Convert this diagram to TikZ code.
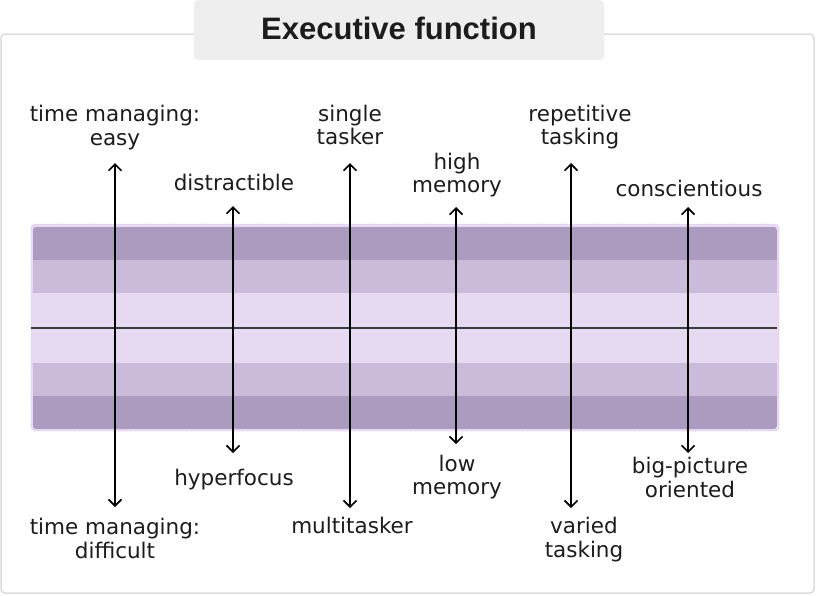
\documentclass[tikz,border=0pt]{standalone}
\usepackage{fontspec}
\setmainfont{DejaVu Sans}
\newfontfamily\titlefont{Liberation Sans}
\usetikzlibrary{arrows.meta}
\definecolor{frameC}{HTML}{DCDCDC}
\definecolor{titleC}{HTML}{EEEEEE}
\definecolor{txtC}{HTML}{1C1C1C}
\definecolor{darkS}{HTML}{AB9BBF}
\definecolor{midS}{HTML}{CBBBDB}
\definecolor{lightS}{HTML}{E6DAF3}
\definecolor{bandB}{HTML}{D4C2EA}
\definecolor{axisC}{HTML}{3C3C3C}
\tikzset{
  lbl/.style={anchor=base, align=center, inner sep=0pt, text=txtC,
    font=\fontsize{21.5}{23.5}\selectfont},
  axisarrow/.style={line width=1.6pt, black,
    {Straight Barb[length=6.5pt,width=13pt]}-{Straight Barb[length=6.5pt,width=13pt]}},
}
\begin{document}
\begin{tikzpicture}[x=1pt,y=-1pt]
\useasboundingbox (0,0) rectangle (816,595);
% outer frame
\draw[frameC, line width=1.5pt, rounded corners=4pt] (1,34) rectangle (814,593);
% title box
\fill[titleC, rounded corners=4pt] (194,0) rectangle (604,60);
\node[anchor=base, inner sep=0pt, text=txtC, font=\titlefont\bfseries\fontsize{31}{34}\selectfont] (title) at (399,39) {Executive function};
% band
\fill[lightS, rounded corners=4pt] (31,224) rectangle (779,431);
\begin{scope}
\clip[rounded corners=3pt] (33,227) rectangle (777,429);
\fill[darkS] (33,227) rectangle (777,260);
\fill[midS] (33,260) rectangle (777,293);
\fill[lightS] (33,293) rectangle (777,363);
\fill[midS] (33,363) rectangle (777,396);
\fill[darkS] (33,396) rectangle (777,429);
\end{scope}
\draw[bandB, line width=0.8pt, dotted, rounded corners=4pt] (31,224) rectangle (779,431);
\coordinate (axL) at (31,328);
\coordinate (axR) at (777,328);
\draw[axisC, line width=1.6pt] (axL) -- (axR);
% arrow end points
\coordinate (t1) at (115,163); \coordinate (b1) at (115,507);
\coordinate (t2) at (233,206); \coordinate (b2) at (233,453);
\coordinate (t3) at (350,163); \coordinate (b3) at (350,508);
\coordinate (t4) at (456,207); \coordinate (b4) at (456,444);
\coordinate (t5) at (571,163); \coordinate (b5) at (571,508);
\coordinate (t6) at (688,207); \coordinate (b6) at (688,453);
\draw[axisarrow] (b1) -- (t1);
\draw[axisarrow] (b2) -- (t2);
\draw[axisarrow] (b3) -- (t3);
\draw[axisarrow] (b4) -- (t4);
\draw[axisarrow] (b5) -- (t5);
\draw[axisarrow] (b6) -- (t6);
% labels (base anchor = baseline of last line)
\node[lbl] (l1t) at (115,145) {time managing:\\easy};
\node[lbl] (l1b) at (115,558) {time managing:\\difficult};
\node[lbl] (l2t) at (234,190) {distractible};
\node[lbl] (l2b) at (234,485) {hyperfocus};
\node[lbl] (l3t) at (350,144.5) {single\\tasker};
\node[lbl] (l3b) at (352,533) {multitasker};
\node[lbl] (l4t) at (457,192.5) {high\\memory};
\node[lbl] (l4b) at (457,494.5) {low\\memory};
\node[lbl] (l5t) at (580,144.5) {repetitive\\tasking};
\node[lbl] (l5b) at (584,557) {varied\\tasking};
\node[lbl] (l6t) at (689,196) {conscientious};
\node[lbl] (l6b) at (690,497) {big-picture\\oriented};
\end{tikzpicture}
\end{document}
